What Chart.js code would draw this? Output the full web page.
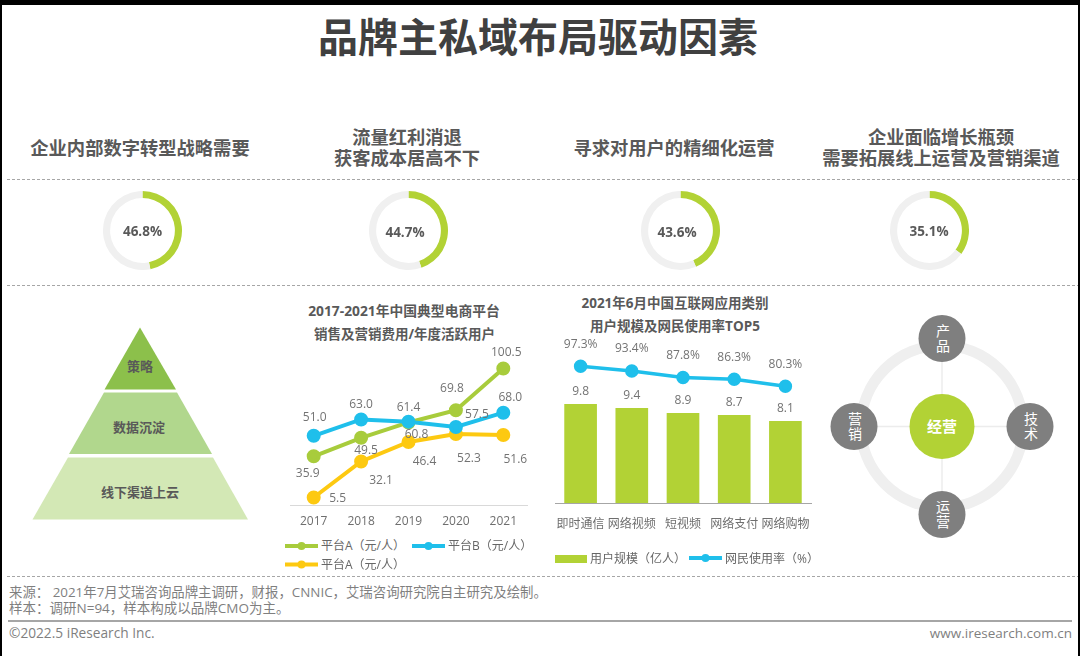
<!DOCTYPE html>
<html lang="zh-CN">
<head>
<meta charset="utf-8">
<title>品牌主私域布局驱动因素</title>
<script src="https://cdn.jsdelivr.net/npm/chart.js@4"></script>
<style>
  html, body { margin: 0; padding: 0; background: #000; }
  #page {
    position: absolute; left: 2px; top: 5px; width: 1076px; height: 651px;
    background: #fff; overflow: hidden;
  }
  #stage {
    position: absolute; left: -2px; top: -5px; width: 1080px; height: 656px;
    font-family: "Open Sans", "Noto Sans CJK SC", sans-serif;
  }
  .txt { position: absolute; transform: translate(-50%, -50%); white-space: nowrap; }
  .head { font-size: 18.3px; font-weight: 700; color: #595959; line-height: 21px; text-align: center; }
  .sub { font-size: 13.5px; font-weight: 700; color: #595959; }
  .pct { font-size: 13.5px; font-weight: 700; color: #595959; }
  .foot { position: absolute; font-size: 13.5px; color: #7f7f7f; white-space: nowrap; line-height: 16px; }
  .dash { position: absolute; left: 7px; right: 0; height: 0; border-top: 1px dashed #a6a6a6; }
  .ring { position: absolute; width: 79px; height: 79px; }
  .vert { writing-mode: vertical-rl; font-size: 14px; letter-spacing: 1.5px; color: #fff; line-height: 16px; }
  canvas { position: absolute; display: block; }
  svg { position: absolute; left: 0; top: 0; }
  .leg { position: absolute; font-size: 12px; color: #666; white-space: nowrap; line-height: 16px; }
</style>
</head>
<body>
<div id="page"><div id="stage">
  <div class="txt" style="left:538px;top:35px;font-size:40px;font-weight:700;color:#404040">品牌主私域布局驱动因素</div>

  <div class="txt head" style="left:140px;top:147px">企业内部数字转型战略需要</div>
  <div class="txt head" style="left:407px;top:146.5px">流量红利消退<br>获客成本居高不下</div>
  <div class="txt head" style="left:674px;top:147px">寻求对用户的精细化运营</div>
  <div class="txt head" style="left:941px;top:146.5px">企业面临增长瓶颈<br>需要拓展线上运营及营销渠道</div>

  <div class="dash" style="top:179px"></div>
  <div class="dash" style="top:285px"></div>
  <div class="dash" style="top:576px"></div>

  <svg width="1080" height="656" font-family="Open Sans, Noto Sans CJK SC, sans-serif">
    <polygon points="140,327.5 176,389.5 104.5,389.5" fill="#8cc04b"/>
    <polygon points="104,392.5 177,392.5 212,454 69,454" fill="#b1d78d"/>
    <polygon points="68,457.5 213,457.5 248,519.5 32.5,519.5" fill="#d3e8b5"/>
    <g font-size="13" font-weight="700" fill="#595959" text-anchor="middle">
      <text x="140" y="371">策略</text>
      <text x="139" y="432">数据沉淀</text>
      <text x="140" y="496.5">线下渠道上云</text>
    </g>

    <circle cx="942" cy="426.5" r="81" fill="none" stroke="#efefef" stroke-width="11"/>
    <g stroke="#ececec" stroke-width="1.5">
      <line x1="942" y1="338" x2="942" y2="514"/>
      <line x1="854" y1="426.5" x2="1030" y2="426.5"/>
    </g>
    <circle cx="942" cy="426.5" r="32.5" fill="#b2d235"/>
    <g fill="#7f7f7f">
      <circle cx="942" cy="338.5" r="23.5"/>
      <circle cx="854" cy="426.5" r="23.5"/>
      <circle cx="1030" cy="426.5" r="23.5"/>
      <circle cx="942" cy="514.5" r="23.5"/>
    </g>
    <text x="942" y="431.5" font-size="15" font-weight="700" fill="#fff" text-anchor="middle">经营</text>

    <g fill="none" stroke-width="4">
      <line x1="285" y1="546" x2="318" y2="546" stroke="#a8cc3c"/>
      <line x1="412" y1="546" x2="445" y2="546" stroke="#1fbfeb"/>
      <line x1="285" y1="564.5" x2="318" y2="564.5" stroke="#fdc911"/>
      <line x1="689" y1="558" x2="722" y2="558" stroke="#1fbfeb"/>
    </g>
    <circle cx="301.5" cy="546" r="4" fill="#a8cc3c"/>
    <circle cx="428.5" cy="546" r="4" fill="#1fbfeb"/>
    <circle cx="301.5" cy="564.5" r="4" fill="#fdc911"/>
    <circle cx="705.5" cy="558" r="4" fill="#1fbfeb"/>
    <rect x="555" y="555" width="32" height="8" fill="#b2d235"/>
  </svg>

  <div class="txt vert" style="left:942px;top:339px">产品</div>
  <div class="txt vert" style="left:854px;top:427px">营销</div>
  <div class="txt vert" style="left:1030px;top:427px">技术</div>
  <div class="txt vert" style="left:942px;top:515px">运营</div>

  <canvas id="ring0" class="ring" width="79" height="79" style="left:103px;top:191px"></canvas>
  <canvas id="ring1" class="ring" width="79" height="79" style="left:369px;top:191px"></canvas>
  <canvas id="ring2" class="ring" width="79" height="79" style="left:640.5px;top:191px"></canvas>
  <canvas id="ring3" class="ring" width="79" height="79" style="left:889.5px;top:191px"></canvas>
  <div class="txt pct" id="pct0" style="left:142.5px;top:231px"></div>
  <div class="txt pct" id="pct1" style="left:405px;top:232px"></div>
  <div class="txt pct" id="pct2" style="left:677px;top:232px"></div>
  <div class="txt pct" id="pct3" style="left:929px;top:231px"></div>

  <div class="txt sub" style="left:404px;top:310px;font-size:13.8px">2017-2021年中国典型电商平台</div>
  <div class="txt sub" style="left:404.5px;top:333px">销售及营销费用/年度活跃用户</div>
  <div class="txt sub" style="left:675px;top:302px">2021年6月中国互联网应用类别</div>
  <div class="txt sub" style="left:675px;top:325px">用户规模及网民使用率TOP5</div>

  <canvas id="lineChart" width="270" height="195" style="left:270px;top:340px"></canvas>
  <canvas id="barChart" width="285" height="203" style="left:540px;top:335px"></canvas>

  <div class="leg" id="legA" style="left:321px;top:538px"></div>
  <div class="leg" id="legB" style="left:448px;top:538px"></div>
  <div class="leg" id="legC" style="left:321px;top:556.5px"></div>
  <div class="leg" id="legD" style="left:590px;top:550.5px"></div>
  <div class="leg" id="legE" style="left:725px;top:550.5px"></div>

  <div class="foot" style="left:9px;top:584px;font-size:13.4px">来源： 2021年7月艾瑞咨询品牌主调研，财报，CNNIC，艾瑞咨询研究院自主研究及绘制。</div>
  <div class="foot" style="left:9px;top:600px">样本：调研N=94，样本构成以品牌CMO为主。</div>
  <div style="position:absolute;left:8px;top:620px;width:1064px;height:2px;background:#a6a6a6"></div>
  <div class="foot" style="left:9px;top:625px;font-size:13.7px">©2022.5 iResearch Inc.</div>
  <div class="foot" style="right:8px;top:625px">www.iresearch.com.cn</div>
</div></div>

<script>
let anos = ['2017', '2018', '2019', '2020', '2021']
let plataformaA = [35.9, 49.5, 60.8, 69.8, 100.5]
let plataformaB = [51.0, 63.0, 61.4, 57.5, 68.0]
let plataformaC = [5.5, 32.1, 46.4, 52.3, 51.6]
let nomeA = '平台A（元/人）'
let nomeB = '平台B（元/人）'
let nomeC = '平台A（元/人）'

let aplicativos = ['即时通信', '网络视频', '短视频', '网络支付', '网络购物']
let usuarios = [9.8, 9.4, 8.9, 8.7, 8.1]
let usoInternet = [97.3, 93.4, 87.8, 86.3, 80.3]
let nomeUsuarios = '用户规模（亿人）'
let nomeUso = '网民使用率（%）'

let fatores = [46.8, 44.7, 43.6, 35.1]

const VERDE = '#b2d235'
const VERDE_LINHA = '#a8cc3c'
const AZUL = '#1fbfeb'
const AMARELO = '#fdc911'
const FONTE = '"Open Sans", "Noto Sans CJK SC", sans-serif'

Chart.defaults.responsive = false
Chart.defaults.animation = false
Chart.defaults.font.family = FONTE
Chart.defaults.plugins.legend.display = false
Chart.defaults.plugins.tooltip.enabled = false

document.getElementById('legA').textContent = nomeA
document.getElementById('legB').textContent = nomeB
document.getElementById('legC').textContent = nomeC
document.getElementById('legD').textContent = nomeUsuarios
document.getElementById('legE').textContent = nomeUso

fatores.forEach(function (valor, i) {
    document.getElementById('pct' + i).textContent = valor.toFixed(1) + '%'
    new Chart(document.getElementById('ring' + i), {
        type: 'doughnut',
        data: {
            datasets: [{
                data: [valor, 100 - valor],
                backgroundColor: [VERDE, '#f0f0f0'],
                borderWidth: 0
            }]
        },
        options: { cutout: '82%', layout: { padding: 0 } }
    })
})

// rotulos de cada ponto, deslocados em pixels a partir do proprio ponto
const rotulos = {
    id: 'rotulos',
    afterDatasetsDraw(chart, args, opts) {
        const ctx = chart.ctx
        ctx.save()
        ctx.font = '12px ' + FONTE
        ctx.fillStyle = '#737373'
        ctx.textAlign = 'center'
        ctx.textBaseline = 'middle'
        opts.desvios.forEach(function (lista, d) {
            let meta = chart.getDatasetMeta(d)
            meta.data.forEach(function (el, i) {
                let valor = chart.data.datasets[d].data[i]
                let txt = valor.toFixed(1) + (opts.sufixo[d] || '')
                ctx.fillText(txt, el.x + lista[i][0], el.y + lista[i][1])
            })
        })
        ctx.restore()
    }
}

function eixoX(altura, corLinha, recuo) {
    return {
        offset: true,
        afterFit(s) { s.height = altura },
        grid: { display: false, drawTicks: false, offset: true },
        border: { display: true, color: corLinha, width: 1 },
        ticks: { color: '#6e6e6e', font: { size: 12 }, padding: recuo, maxRotation: 0, autoSkip: false }
    }
}

function linha(nome, valores, cor, ordem, larg, raio) {
    return {
        type: 'line', label: nome, data: valores, order: ordem,
        borderColor: cor, backgroundColor: cor, pointBackgroundColor: cor, pointBorderColor: cor,
        borderWidth: larg, pointRadius: raio, tension: 0, clip: false
    }
}

new Chart(document.getElementById('lineChart'), {
    type: 'line',
    data: {
        labels: anos,
        datasets: [
            linha(nomeA, plataformaA, VERDE_LINHA, 1, 4, 5),
            linha(nomeB, plataformaB, AZUL, 0, 4, 5),
            linha(nomeC, plataformaC, AMARELO, 2, 4, 5)
        ]
    },
    options: {
        layout: { padding: { left: 20, right: 13, top: 15, bottom: 0 } },
        scales: {
            x: eixoX(30, '#d9d9d9', 9),
            y: { display: false, min: 0, max: 110.5 }
        },
        plugins: {
            rotulos: {
                sufixo: ['', '', ''],
                desvios: [
                    [[-6, 17], [5, 13], [8, 12], [-4, -22], [3, -16]],
                    [[1, -18], [0, -15], [0, -14], [21, -12], [7, -15]],
                    [[24, 1], [20, 19], [16, 20], [13, 25], [12, 25]]
                ]
            }
        }
    },
    plugins: [rotulos]
})

new Chart(document.getElementById('barChart'), {
    data: {
        labels: aplicativos,
        datasets: [
            { type: 'bar', label: nomeUsuarios, data: usuarios, order: 1, yAxisID: 'y', backgroundColor: VERDE, barThickness: 32 },
            Object.assign(linha(nomeUso, usoInternet, AZUL, 0, 3.5, 5), { yAxisID: 'y2' })
        ]
    },
    options: {
        layout: { padding: { left: 15, right: 14, top: 27, bottom: 0 } },
        scales: {
            x: eixoX(35, '#a6a6a6', 14),
            y: { display: false, min: 0, max: 14 },
            y2: { display: false, min: -19, max: 101 }
        },
        plugins: {
            rotulos: {
                sufixo: ['', '%'],
                desvios: [
                    [[0, -13], [0, -13], [0, -13], [0, -13], [0, -13]],
                    [[0, -22], [0, -22], [0, -22], [0, -22], [0, -22]]
                ]
            }
        }
    },
    plugins: [rotulos]
})
</script>
</body>
</html>
